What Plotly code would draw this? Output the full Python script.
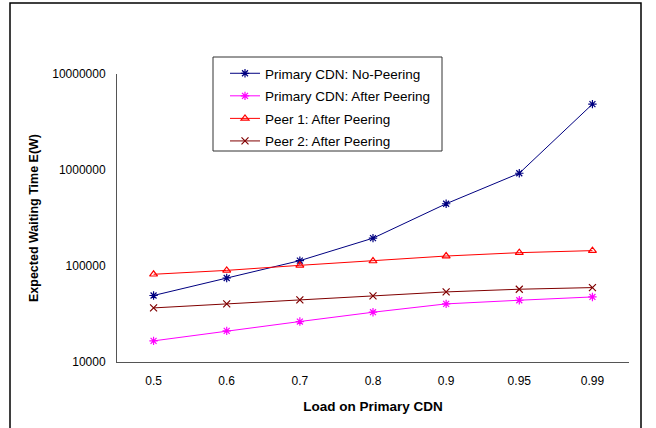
import plotly.graph_objects as go

loads = ["0.5", "0.6", "0.7", "0.8", "0.9", "0.95", "0.99"]
primary_no_peering = [49300, 75000, 113700, 195000, 445000, 925000, 4850000]
primary_after_peering = [16600, 21100, 26400, 33000, 40300, 44000, 47600]
peer1_after_peering = [82000, 90000, 101600, 112700, 127000, 137700, 144600]
peer2_after_peering = [36600, 40300, 44300, 48800, 53700, 57300, 59600]

series = [
    ("Primary CDN: No-Peering", primary_no_peering, "#000080", "asterisk-open", 7),
    ("Primary CDN: After Peering", primary_after_peering, "#FF00FF", "asterisk-open", 7),
    ("Peer 1: After Peering", peer1_after_peering, "#FF0000", "triangle-up-open", 7),
    ("Peer 2: After Peering", peer2_after_peering, "#800000", "x-thin-open", 7),
]

fig = go.Figure()
for i, (name, vals, col, sym, sz) in enumerate(series):
    fig.add_trace(go.Scatter(
        x=loads, y=vals, name=name, mode="lines+markers",
        line=dict(color=col, width=1),
        marker=dict(symbol=sym, size=sz, color=col, line=dict(color=col, width=1.2)),
        legendgroup=f"g{i}",
    ))

L, R, T, B = 117, 629, 74, 362
PW, PH = R - L, B - T

def px(x):
    return (x - L) / PW

def py(y):
    return (B - y) / PH

font_family = "Liberation Sans, Arial, sans-serif"
fig.update_layout(
    width=656, height=428,
    margin=dict(l=L, r=656 - R, t=T, b=428 - B),
    paper_bgcolor="white", plot_bgcolor="white",
    font=dict(family=font_family, size=12, color="black"),
    showlegend=True,
    legend=dict(
        x=px(225), y=py(58), xanchor="left", yanchor="top",
        borderwidth=0, bgcolor="rgba(0,0,0,0)",
        font=dict(size=13.5), traceorder="grouped", tracegroupgap=2,
    ),
    xaxis=dict(
        type="category", range=[-0.5, 6.5],
        showline=True, linecolor="#555555", linewidth=1,
        showgrid=False, ticks="", zeroline=False,
        tickfont=dict(size=12), ticklabelstandoff=8,
        title=dict(text="<b>Load on Primary CDN</b>", font=dict(size=13.5), standoff=14),
    ),
    yaxis=dict(
        type="log", range=[4, 7],
        tickvals=[10000, 100000, 1000000, 10000000],
        ticktext=["10000", "100000", "1000000", "10000000"],
        showline=True, linecolor="#555555", linewidth=1,
        showgrid=False, ticks="", zeroline=False,
        tickfont=dict(size=12), ticklabelstandoff=8,
        title=dict(text="<b>Expected Waiting Time E(W)</b>", font=dict(size=12.5), standoff=10),
    ),
    shapes=[
        dict(
            type="rect", xref="paper", yref="paper",
            x0=px(10), x1=px(641), y0=py(440), y1=py(3),
            line=dict(color="black", width=1.5), fillcolor="rgba(0,0,0,0)", layer="below",
        ),
        dict(
            type="rect", xref="paper", yref="paper",
            x0=px(213), x1=px(442), y0=py(151), y1=py(57),
            line=dict(color="#333333", width=1), fillcolor="white", layer="above",
        ),
    ],
)

fig.write_html("out.html", config={"displayModeBar": False},
               post_script="document.body.style.margin='0';")
